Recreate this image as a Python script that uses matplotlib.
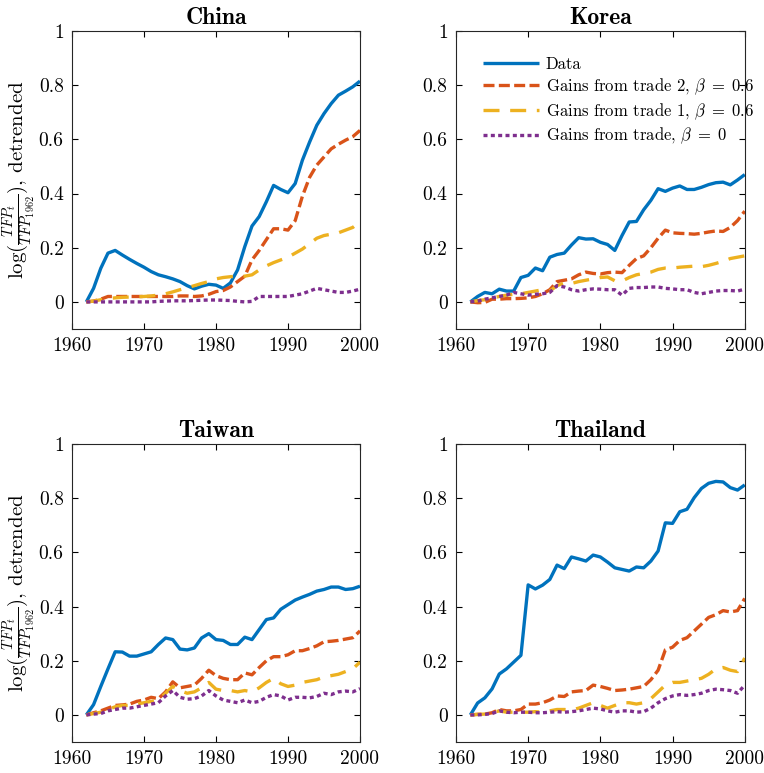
"""TFP detrended: data vs gains-from-trade models for four economies."""

import matplotlib

matplotlib.use("Agg")
import matplotlib.pyplot as plt
import numpy as np

plt.rcParams["font.family"] = "serif"
plt.rcParams["font.serif"] = ["cmr10"]
plt.rcParams["mathtext.fontset"] = "cm"
plt.rcParams["axes.unicode_minus"] = False

YEARS = np.arange(1962, 2001)

# China
china_data = [0.0, 0.05, 0.124, 0.18, 0.19, 0.173, 0.157, 0.142, 0.128, 0.112,
              0.10, 0.093, 0.085, 0.075, 0.06, 0.048, 0.058, 0.065, 0.062, 0.05,
              0.07, 0.118, 0.204, 0.28, 0.315, 0.37, 0.43, 0.415, 0.403, 0.437,
              0.523, 0.59, 0.652, 0.695, 0.732, 0.763, 0.778, 0.794, 0.815]
china_gft2 = [0.0, 0.003, 0.01, 0.02, 0.02, 0.02, 0.02, 0.02, 0.02, 0.02,
              0.02, 0.02, 0.02, 0.022, 0.022, 0.02, 0.022, 0.028, 0.038, 0.042,
              0.055, 0.075, 0.095, 0.155, 0.19, 0.23, 0.27, 0.27, 0.265, 0.30,
              0.39, 0.46, 0.505, 0.535, 0.565, 0.582, 0.597, 0.61, 0.633]
china_gft1 = [0.0, 0.003, 0.008, 0.012, 0.015, 0.017, 0.018, 0.019, 0.02, 0.022,
              0.025, 0.03, 0.037, 0.045, 0.052, 0.06, 0.068, 0.075, 0.085, 0.09,
              0.093, 0.095, 0.095, 0.1, 0.118, 0.133, 0.145, 0.155, 0.165, 0.18,
              0.195, 0.215, 0.235, 0.245, 0.25, 0.255, 0.265, 0.275, 0.295]
china_gft0 = [0.0, 0.0, 0.0, 0.0, 0.0, 0.0, 0.0, 0.0, 0.0, 0.0,
              0.002, 0.003, 0.004, 0.004, 0.004, 0.005, 0.006, 0.007, 0.007, 0.006,
              0.005, 0.002, 0.0, 0.002, 0.02, 0.02, 0.02, 0.02, 0.02, 0.025,
              0.03, 0.04, 0.05, 0.045, 0.04, 0.035, 0.035, 0.04, 0.047]

# Korea
korea_data = [0.0, 0.02, 0.035, 0.03, 0.047, 0.04, 0.04, 0.09, 0.098, 0.125,
              0.115, 0.165, 0.175, 0.18, 0.21, 0.237, 0.232, 0.233, 0.22, 0.212,
              0.19, 0.245, 0.295, 0.297, 0.34, 0.375, 0.418, 0.408, 0.42, 0.428,
              0.415, 0.415, 0.423, 0.433, 0.44, 0.442, 0.432, 0.45, 0.47]
korea_gft2 = [0.0, -0.003, -0.002, 0.01, 0.01, 0.012, 0.012, 0.013, 0.015, 0.02,
              0.03, 0.045, 0.075, 0.08, 0.085, 0.1, 0.11, 0.105, 0.103, 0.108,
              0.11, 0.108, 0.135, 0.16, 0.17, 0.2, 0.235, 0.265, 0.255, 0.253,
              0.252, 0.25, 0.253, 0.258, 0.262, 0.26, 0.275, 0.3, 0.335]
korea_gft1 = [0.0, 0.005, 0.008, 0.015, 0.02, 0.025, 0.028, 0.03, 0.035, 0.04,
              0.045, 0.04, 0.06, 0.07, 0.068, 0.075, 0.08, 0.085, 0.09, 0.092,
              0.078, 0.077, 0.09, 0.1, 0.105, 0.11, 0.12, 0.125, 0.125, 0.128,
              0.13, 0.132, 0.13, 0.135, 0.142, 0.15, 0.16, 0.165, 0.17]
korea_gft0 = [0.0, 0.003, 0.01, 0.015, 0.02, 0.025, 0.035, 0.03, 0.025, 0.028,
              0.03, 0.035, 0.06, 0.055, 0.045, 0.04, 0.045, 0.048, 0.047, 0.045,
              0.045, 0.025, 0.05, 0.053, 0.053, 0.055, 0.055, 0.05, 0.048, 0.045,
              0.045, 0.035, 0.03, 0.035, 0.04, 0.042, 0.042, 0.04, 0.047]

# Taiwan
taiwan_data = [0.0, 0.038, 0.105, 0.17, 0.233, 0.232, 0.217, 0.217, 0.225, 0.233,
               0.26, 0.284, 0.278, 0.243, 0.24, 0.247, 0.284, 0.30, 0.278, 0.275,
               0.26, 0.26, 0.287, 0.278, 0.315, 0.352, 0.358, 0.39, 0.407, 0.424,
               0.435, 0.445, 0.457, 0.463, 0.472, 0.472, 0.463, 0.466, 0.475]
taiwan_gft2 = [0.0, 0.008, 0.015, 0.025, 0.035, 0.037, 0.04, 0.05, 0.055, 0.065,
               0.06, 0.085, 0.122, 0.1, 0.105, 0.11, 0.135, 0.165, 0.145, 0.135,
               0.13, 0.13, 0.155, 0.148, 0.175, 0.2, 0.215, 0.215, 0.222, 0.237,
               0.237, 0.245, 0.255, 0.27, 0.272, 0.275, 0.28, 0.285, 0.31]
taiwan_gft1 = [0.0, 0.005, 0.01, 0.02, 0.03, 0.035, 0.035, 0.04, 0.045, 0.05,
               0.055, 0.08, 0.105, 0.09, 0.08, 0.085, 0.1, 0.12, 0.095, 0.09,
               0.09, 0.085, 0.09, 0.085, 0.1, 0.12, 0.135, 0.115, 0.105, 0.11,
               0.12, 0.125, 0.13, 0.14, 0.145, 0.15, 0.16, 0.17, 0.195]
taiwan_gft0 = [0.0, 0.003, 0.005, 0.015, 0.02, 0.025, 0.025, 0.03, 0.035, 0.04,
               0.045, 0.07, 0.09, 0.065, 0.058, 0.06, 0.07, 0.09, 0.07, 0.055,
               0.05, 0.045, 0.055, 0.045, 0.05, 0.065, 0.075, 0.07, 0.055, 0.065,
               0.065, 0.063, 0.068, 0.08, 0.075, 0.085, 0.088, 0.085, 0.097]

# Thailand
thailand_data = [0.0, 0.044, 0.063, 0.096, 0.151, 0.17, 0.195, 0.22, 0.48, 0.465,
                 0.479, 0.50, 0.553, 0.54, 0.583, 0.576, 0.568, 0.59, 0.583, 0.564,
                 0.543, 0.537, 0.531, 0.546, 0.543, 0.568, 0.605, 0.709, 0.707, 0.75,
                 0.759, 0.802, 0.836, 0.855, 0.862, 0.86, 0.839, 0.83, 0.849]
thailand_gft2 = [0.0, 0.002, 0.003, 0.008, 0.02, 0.015, 0.015, 0.02, 0.04, 0.04,
                 0.045, 0.055, 0.07, 0.068, 0.085, 0.088, 0.09, 0.11, 0.105, 0.098,
                 0.09, 0.092, 0.095, 0.1, 0.105, 0.13, 0.165, 0.24, 0.25, 0.275,
                 0.285, 0.31, 0.335, 0.36, 0.37, 0.385, 0.38, 0.385, 0.43]
thailand_gft1 = [0.0, 0.002, 0.003, 0.008, 0.015, 0.01, 0.01, 0.01, 0.01, 0.012,
                 0.01, 0.015, 0.02, 0.02, 0.018, 0.025, 0.035, 0.045, 0.035, 0.025,
                 0.035, 0.045, 0.045, 0.04, 0.045, 0.06, 0.085, 0.11, 0.12, 0.12,
                 0.125, 0.13, 0.135, 0.15, 0.17, 0.175, 0.165, 0.16, 0.21]
thailand_gft0 = [0.0, 0.0, 0.002, 0.005, 0.015, 0.01, 0.008, 0.01, 0.01, 0.008,
                 0.008, 0.01, 0.012, 0.01, 0.012, 0.015, 0.02, 0.025, 0.022, 0.015,
                 0.01, 0.015, 0.015, 0.01, 0.012, 0.025, 0.045, 0.06, 0.07, 0.075,
                 0.072, 0.075, 0.08, 0.09, 0.095, 0.093, 0.09, 0.08, 0.11]

COUNTRIES = ["China", "Korea", "Taiwan", "Thailand"]
SERIES = {
    "China": (china_data, china_gft2, china_gft1, china_gft0),
    "Korea": (korea_data, korea_gft2, korea_gft1, korea_gft0),
    "Taiwan": (taiwan_data, taiwan_gft2, taiwan_gft1, taiwan_gft0),
    "Thailand": (thailand_data, thailand_gft2, thailand_gft1, thailand_gft0),
}
LABELS = [
    "Data",
    r"Gains from trade 2, $\beta\;=\;0.6$",
    r"Gains from trade 1, $\beta\;=\;0.6$",
    r"Gains from trade, $\beta\;=\;0$",
]
COLORS = ["#0072BD", "#D95319", "#EDB120", "#7E2F8E"]
DASHES = [None, (3.3, 1.3), (4.8, 3.2), (1.2, 1.0)]

# axes boxes in figure fraction: left, bottom, width, height
BOXES = [
    (0.0942, 0.5744, 0.377, 0.3855),
    (0.5968, 0.5744, 0.378, 0.3855),
    (0.0942, 0.0401, 0.377, 0.3855),
    (0.5968, 0.0401, 0.378, 0.3855),
]


def _panel(fig, box, country, show_ylabel, show_legend):
    ax = fig.add_axes(box)
    for values, label, color, dash in zip(SERIES[country], LABELS, COLORS, DASHES):
        line, = ax.plot(YEARS, values, color=color, lw=2.4, label=label,
                        solid_capstyle="butt", dash_capstyle="butt")
        if dash is not None:
            line.set_dashes(dash)
    ax.set_xlim(1960, 2000)
    ax.set_ylim(-0.1, 1.0)
    ax.set_xticks([1960, 1970, 1980, 1990, 2000])
    ax.set_xticklabels(["1960", "1970", "1980", "1990", "2000"])
    ax.set_yticks([0, 0.2, 0.4, 0.6, 0.8, 1.0])
    ax.set_yticklabels(["0", "0.2", "0.4", "0.6", "0.8", "1"])
    ax.tick_params(direction="in", top=True, right=True, length=4, width=0.8,
                   labelsize=14, pad=6)
    for spine in ax.spines.values():
        spine.set_linewidth(0.8)
        spine.set_color("#262626")
    ax.set_title(country, fontfamily="cmb10", fontsize=17, pad=5)
    if show_ylabel:
        ax.set_ylabel(r"$\log(\frac{TFP_t}{TFP_{1962}})$, detrended", fontsize=15)
        ax.yaxis.set_label_coords(-0.118, 0.5)
    if show_legend:
        ax.legend(loc="upper left", bbox_to_anchor=(0.093, 0.914), frameon=False,
                  fontsize=12, handlelength=3.35, handletextpad=0.42,
                  labelspacing=0.26, borderpad=0, borderaxespad=0)
    return ax


def main():
    fig = plt.figure(figsize=(7.64, 7.73), dpi=100)
    for i, (country, box) in enumerate(zip(COUNTRIES, BOXES)):
        _panel(fig, box, country, show_ylabel=(i % 2 == 0), show_legend=(country == "Korea"))
    fig.savefig("out.png", dpi=100)
    plt.close(fig)


if __name__ == "__main__":
    main()
